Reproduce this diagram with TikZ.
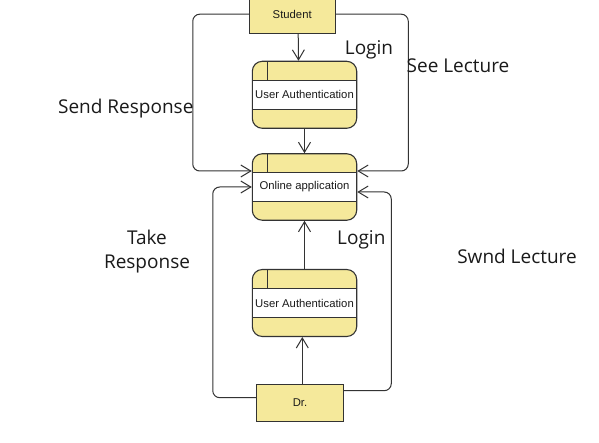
\documentclass[tikz,border=0pt]{standalone}
\usepackage{fontspec}
\setmainfont{Open Sans}
\newfontfamily\boxfont{Liberation Sans}
\usetikzlibrary{arrows.meta,calc}
\definecolor{boxfill}{HTML}{F5E99B}
\definecolor{linec}{HTML}{333333}
\definecolor{txtc}{HTML}{1A1A1A}
\begin{document}
\begin{tikzpicture}[x=1pt,y=-1pt,
  boxtext/.style={font=\boxfont\fontsize{11.3}{13}\selectfont, text=txtc},
  ext/.style={draw=linec, line width=1.1pt, fill=boxfill, inner sep=0pt, boxtext},
  proc/.style={draw=linec, line width=1.1pt, fill=boxfill, rounded corners=10pt,
    minimum width=104.4pt, minimum height=67pt, inner sep=0pt, boxtext,
    path picture={
      \fill[white, sharp corners] ([yshift=-19pt]path picture bounding box.north west) rectangle ([yshift=19pt]path picture bounding box.south east);
      \draw[linec, line width=1.1pt, sharp corners] ([yshift=-19pt]path picture bounding box.north west) -- ([yshift=-19pt]path picture bounding box.north east);
      \draw[linec, line width=1.1pt, sharp corners] ([yshift=19pt]path picture bounding box.south west) -- ([yshift=19pt]path picture bounding box.south east);
      \draw[linec, line width=1.1pt, sharp corners] ([xshift=15pt]path picture bounding box.north west) -- ([xshift=15pt,yshift=-19pt]path picture bounding box.north west);
    }},
  arr/.style={draw=linec, line width=1pt, -{Straight Barb[length=10pt,width=12pt]}},
  lbl/.style={font=\fontsize{19}{23.5}\selectfont, inner sep=0pt, text=txtc}
]
\fill[white] (0,0) rectangle (599,443);
\useasboundingbox (0,0) rectangle (599,443);
\clip (0,0) rectangle (599,443);

% nodes
\node[ext, minimum width=85.7pt, minimum height=38pt] (student) at (292.2,14.2) {Student};
\node[proc] (ua1) at (304.5,94.8) {User Authentication};
\node[proc, minimum height=66.5pt] (online) at (304.5,187) {Online application};
\node[proc] (ua2) at (304.5,303) {User Authentication};
\node[ext, minimum width=86.6pt, minimum height=37.3pt] (dr) at (300,402.7) {Dr.};

% connectors
\draw[arr] ([xshift=6pt]student.south) -- ([xshift=-6pt]ua1.north);
\draw[arr] (ua1.south) -- (online.north);
\draw[arr, rounded corners=7pt] (student.west) -| ([xshift=-59pt,yshift=16pt]online.west) -- ([yshift=16pt]online.west);
\draw[arr, rounded corners=7pt] (student.east) -| ([xshift=51pt,yshift=16pt]online.east) -- ([yshift=16pt]online.east);
\draw[arr, rounded corners=7pt] ([yshift=5pt]dr.west) -| ([xshift=-39pt]online.west) -- (online.west);
\draw[arr, rounded corners=7pt] ([yshift=12pt]dr.east) -| ([xshift=34pt,yshift=-5pt]online.east) -- ([yshift=-5pt]online.east);
\draw[arr] ([xshift=2.3pt]dr.north) -- ([xshift=-2.2pt]ua2.south);
\draw[arr] (ua2.north) -- (online.south);

% labels
\node[lbl, anchor=base] (l1) at (369,55) {Login};
\node[lbl, anchor=base] (l2) at (458,72.7) {See Lecture};
\node[lbl, anchor=base] (l3) at (125.8,113.3) {Send Response};
\node[lbl, align=center] (l4) at (147,251.5) {Take\\Response};
\node[lbl, anchor=base] (l5) at (361.3,244.3) {Login};
\node[lbl, anchor=base] (l6) at (517,263.3) {Swnd Lecture};
\end{tikzpicture}
\end{document}
